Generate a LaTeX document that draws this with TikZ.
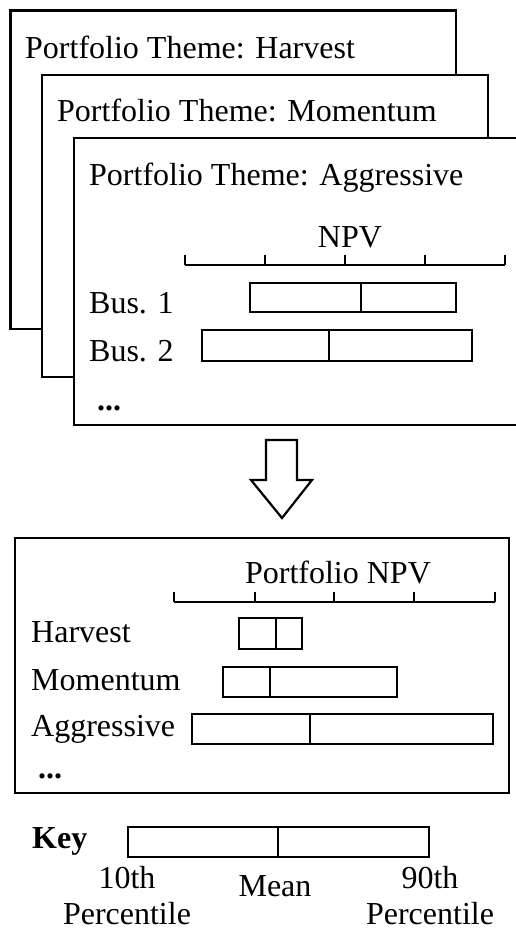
\documentclass[tikz,border=0pt]{standalone}
\usepackage{fontspec}
\setmainfont{Liberation Serif}
\tikzset{
  frame/.style={draw=black, line width=2.2pt, fill=white, line join=miter},
  bar/.style={draw=black, line width=2.2pt},
  txt/.style={anchor=base west, inner sep=0pt, font=\fontsize{32}{38}\selectfont},
  ctxt/.style={anchor=base, inner sep=0pt, font=\fontsize{32}{38}\selectfont},
}
\begin{document}
\begin{tikzpicture}[x=1pt, y=-1pt]
\useasboundingbox (0,0) rectangle (516,930);

% stacked theme pages
\draw[frame] (10.5,10.5) rectangle (456,329);
\node[txt] (tHarv) at (25,58) {Portfolio Theme: Harvest};
\draw[frame] (42,75) rectangle (488,377);
\node[txt] (tMom) at (57,121) {Portfolio Theme: Momentum};
\draw[frame] (74,138) rectangle (530,425);
\node[txt] (tAgg) at (89,185) {Portfolio Theme: Aggressive};

% business-level NPV axis
\node[ctxt] (npv) at (350,247) {NPV};
\draw[bar] (185,265) -- (505,265);
\foreach \x in {185,265,345,425,505} \draw[bar] (\x,265) -- (\x,255);

\node[txt] (b1) at (89,313) {Bus. 1};
\draw[bar] (250,283) rectangle (456,312);
\draw[bar] (361,283) -- (361,312);
\node[txt] (b2) at (89,361) {Bus. 2};
\draw[bar] (202,330) rectangle (472,361);
\draw[bar] (329,330) -- (329,361);
\node[txt, font=\fontsize{32}{38}\selectfont\bfseries] (dots1) at (97,410) {...};

% hollow down arrow
\draw[bar, line join=miter] (266,440) -- (297,440) -- (297,480) -- (312,480)
  -- (282,518) -- (251,480) -- (266,480) -- cycle;

% portfolio summary panel
\draw[frame] (15,538) rectangle (509,793);
\node[ctxt] (pnpv) at (338,583) {Portfolio NPV};
\draw[bar] (174,602) -- (495,602);
\foreach \x in {174,255,334,414,495} \draw[bar] (\x,602) -- (\x,592);

\node[txt] (harv) at (31,642) {Harvest};
\draw[bar] (239,618) rectangle (302,649);
\draw[bar] (276,618) -- (276,649);
\node[txt] (mom) at (31,690) {Momentum};
\draw[bar] (223,667) rectangle (397,697);
\draw[bar] (270,667) -- (270,697);
\node[txt] (agg) at (31,736) {Aggressive};
\draw[bar] (192,714) rectangle (493,744);
\draw[bar] (310,714) -- (310,744);
\node[txt, font=\fontsize{32}{38}\selectfont\bfseries] (dots2) at (38,778) {...};

% key
\node[txt, font=\fontsize{32}{38}\selectfont\bfseries] (key) at (32,848) {Key};
\draw[bar] (128,827) rectangle (429,857);
\draw[bar] (278,827) -- (278,857);
\node[ctxt] (p10) at (127,888) {10th};
\node[ctxt] (p10b) at (127,924) {Percentile};
\node[ctxt] (mean) at (275,896) {Mean};
\node[ctxt] (p90) at (430,888) {90th};
\node[ctxt] (p90b) at (430,924) {Percentile};
\end{tikzpicture}
\end{document}
